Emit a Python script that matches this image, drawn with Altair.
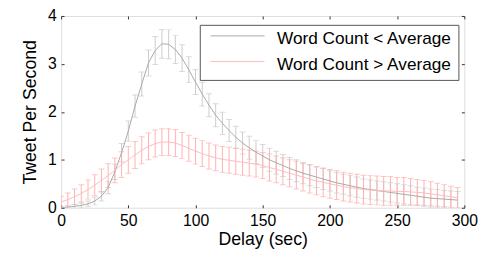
import altair as alt
import pandas as pd

delay = list(range(0, 300, 5))

series_names = ["Word Count < Average", "Word Count > Average"]

low_mean = [0.00, 0.01, 0.03, 0.05, 0.08, 0.14, 0.24, 0.42, 0.75, 1.15,
            1.60, 2.12, 2.58, 3.02, 3.28, 3.42, 3.41, 3.30, 3.12, 2.88,
            2.62, 2.37, 2.14, 1.93, 1.76, 1.61, 1.47, 1.35, 1.25, 1.16,
            1.08, 1.00, 0.94, 0.88, 0.82, 0.77, 0.72, 0.68, 0.64, 0.60,
            0.56, 0.52, 0.49, 0.46, 0.43, 0.40, 0.38, 0.36, 0.34, 0.32,
            0.30, 0.28, 0.26, 0.24, 0.22, 0.20, 0.19, 0.18, 0.17, 0.16]
low_err = [0.02, 0.03, 0.04, 0.05, 0.06, 0.08, 0.10, 0.13, 0.16, 0.19,
           0.21, 0.23, 0.25, 0.27, 0.29, 0.30, 0.30, 0.29, 0.28, 0.27,
           0.26, 0.25, 0.24, 0.24, 0.23, 0.23, 0.23, 0.23, 0.24, 0.24,
           0.24, 0.24, 0.24, 0.23, 0.23, 0.23, 0.22, 0.22, 0.22, 0.22,
           0.21, 0.21, 0.21, 0.21, 0.21, 0.20, 0.20, 0.20, 0.20, 0.20,
           0.20, 0.20, 0.20, 0.19, 0.19, 0.19, 0.19, 0.18, 0.18, 0.18]
high_mean = [0.12, 0.17, 0.23, 0.30, 0.38, 0.47, 0.57, 0.67, 0.78, 0.90,
             1.00, 1.10, 1.20, 1.28, 1.34, 1.37, 1.37, 1.35, 1.30, 1.24,
             1.18, 1.13, 1.08, 1.04, 1.01, 0.99, 0.97, 0.95, 0.93, 0.91,
             0.88, 0.84, 0.80, 0.76, 0.72, 0.68, 0.64, 0.60, 0.56, 0.53,
             0.50, 0.47, 0.44, 0.42, 0.40, 0.38, 0.37, 0.36, 0.35, 0.35,
             0.34, 0.34, 0.33, 0.32, 0.31, 0.29, 0.27, 0.25, 0.23, 0.21]
high_err = [0.12, 0.14, 0.16, 0.18, 0.20, 0.22, 0.24, 0.25, 0.26, 0.27,
            0.28, 0.28, 0.28, 0.28, 0.28, 0.28, 0.28, 0.28, 0.27, 0.27,
            0.27, 0.27, 0.27, 0.27, 0.27, 0.27, 0.27, 0.27, 0.27, 0.27,
            0.27, 0.28, 0.28, 0.28, 0.28, 0.29, 0.29, 0.29, 0.29, 0.30,
            0.30, 0.30, 0.30, 0.30, 0.30, 0.30, 0.30, 0.30, 0.30, 0.30,
            0.29, 0.29, 0.28, 0.27, 0.26, 0.25, 0.24, 0.23, 0.22, 0.21]

x_ticks = [0, 50, 100, 150, 200, 250, 300]
y_ticks = [0, 1, 2, 3, 4]

rows = []
for name, means, errs in [(series_names[0], low_mean, low_err),
                          (series_names[1], high_mean, high_err)]:
    for d, m, e in zip(delay, means, errs):
        rows.append({"delay": d, "series": name, "mean": m,
                     "lo": m - e, "hi": m + e})
df = pd.DataFrame(rows)

FONT = "Liberation Sans"
x_scale = alt.Scale(domain=[0, 300], nice=False)
y_scale = alt.Scale(domain=[0, 4], nice=False)

line_colors = alt.Scale(domain=series_names, range=["#a8a8a8", "#ffbcbc"])
bar_colors = alt.Scale(domain=series_names, range=["#cccccc", "#ffb0b0"])

base = alt.Chart(df)

x_noaxis = alt.X("delay:Q", scale=x_scale, axis=None)
bar_color = alt.Color("series:N", scale=bar_colors, legend=None)

bars = base.mark_rule(strokeWidth=1, clip=True).encode(
    x=x_noaxis,
    y=alt.Y("lo:Q", scale=y_scale, axis=None),
    y2="hi:Q",
    color=bar_color,
)
caps_lo = base.mark_tick(thickness=1, size=6, orient="horizontal", clip=True).encode(
    x=x_noaxis,
    y=alt.Y("lo:Q", scale=y_scale, axis=None),
    color=bar_color,
)
caps_hi = base.mark_tick(thickness=1, size=6, orient="horizontal", clip=True).encode(
    x=x_noaxis,
    y=alt.Y("hi:Q", scale=y_scale, axis=None),
    color=bar_color,
)
bar_layer = alt.layer(bars, caps_lo, caps_hi)

lines = base.mark_line(strokeWidth=1, clip=True).encode(
    x=alt.X("delay:Q", scale=x_scale, title="Delay (sec)",
            axis=alt.Axis(values=x_ticks, format="d", grid=False, domain=False,
                          tickSize=3, offset=-3, tickColor="#333",
                          labelPadding=5, labelFontSize=16, labelFont=FONT,
                          labelColor="black", titleFontSize=18, titleFont=FONT,
                          titleFontWeight="normal", titleColor="black",
                          titlePadding=2, labelFlush=False)),
    y=alt.Y("mean:Q", scale=y_scale, title="Tweet Per Second",
            axis=alt.Axis(values=y_ticks, format="d", grid=False, domain=False,
                          tickSize=3, offset=-3, tickColor="#333",
                          labelPadding=5, labelFontSize=16, labelFont=FONT,
                          labelColor="black", titleFontSize=18, titleFont=FONT,
                          titleFontWeight="normal", titleColor="black",
                          titlePadding=8, labelFlush=False)),
    color=alt.Color("series:N", scale=line_colors,
                    legend=alt.Legend(title=None, orient="none", legendX=141,
                                      legendY=9, symbolType="M-0.55,-0.5H7.3",
                                      symbolSize=196, symbolStrokeWidth=1,
                                      labelFontSize=17.5, labelFont=FONT,
                                      labelLimit=400,
                                      labelColor="black", strokeColor="#555",
                                      fillColor="white", padding=6,
                                      rowPadding=7, labelOffset=55)),
)

frame_axes = base.mark_line(strokeOpacity=0).encode(
    x=alt.X("delay:Q", scale=x_scale,
            axis=alt.Axis(orient="top", values=x_ticks, labels=False, title=None,
                          grid=False, domain=False, tickSize=3, offset=-3,
                          tickColor="#333")),
    y=alt.Y("mean:Q", scale=y_scale,
            axis=alt.Axis(orient="right", values=y_ticks, labels=False, title=None,
                          grid=False, domain=False, tickSize=3, offset=-3,
                          tickColor="#333")),
    detail="series:N",
)

chart = alt.layer(bar_layer, lines, frame_axes).resolve_axis(
    x="independent", y="independent"
).resolve_scale(color="independent").properties(
    width=410, height=195,
    autosize=alt.AutoSizeParams(type="none"),
    padding={"left": 54, "top": 6, "right": 20, "bottom": 50},
).configure_view(stroke="#555", strokeWidth=1).configure(background="white")

chart.save("out.html", embed_options={"renderer": "svg", "actions": False})
